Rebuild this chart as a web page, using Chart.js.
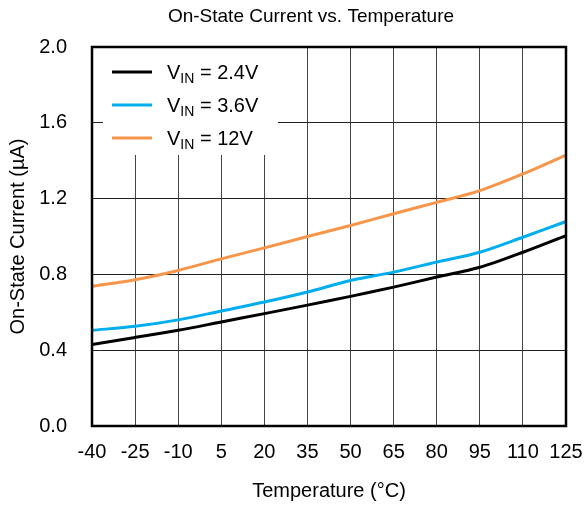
<!DOCTYPE html>
<html lang="en">
<head>
    <meta charset="UTF-8">
    <title>On-State Current vs. Temperature</title>
    <style>
        html, body { margin: 0; padding: 0; background: #fff; }
        #wrap { width: 585px; height: 507px; }
    </style>
</head>
<body>
    <div id="wrap"><canvas id="chart" width="585" height="507"></canvas></div>
    <script src="https://cdn.jsdelivr.net/npm/chart.js@4.4.0/dist/chart.umd.min.js"></script>
    <script>
        // data
        const temps = [-40, -25, -10, 5, 20, 35, 50, 65, 80, 95, 110, 125];
        const vin24 = [0.430, 0.467, 0.505, 0.549, 0.593, 0.638, 0.684, 0.733, 0.786, 0.838, 0.917, 1.005];
        const vin36 = [0.505, 0.526, 0.560, 0.607, 0.654, 0.707, 0.768, 0.812, 0.865, 0.917, 0.996, 1.079];
        const vin12 = [0.737, 0.772, 0.821, 0.882, 0.940, 1.000, 1.058, 1.120, 1.180, 1.242, 1.330, 1.430];
        const vinNames = ['2.4V', '3.6V', '12V'];
        const colors = ['#000000', '#00aeef', '#f7964a'];

        const FONT = "Arial, 'Liberation Sans', sans-serif";

        const pts = arr => temps.map((t, i) => ({x: t, y: arr[i]}));

        // title, frame and the legend (needs a subscript, so drawn by hand)
        const extras = {
            id: 'extras',
            afterDraw(chart) {
                const ctx = chart.ctx;
                const a = chart.chartArea;
                ctx.save();
                ctx.fillStyle = '#000';
                ctx.font = '19px ' + FONT;
                ctx.textAlign = 'center';
                ctx.textBaseline = 'middle';
                ctx.fillText('On-State Current vs. Temperature', 311, 17);

                // legend box
                ctx.fillStyle = '#fff';
                ctx.fillRect(a.left + 11, a.top + 1, 175, 107);
                chart.data.datasets.forEach((ds, i) => {
                    const y = a.top + 25 + i * 33;
                    ctx.strokeStyle = ds.borderColor;
                    ctx.lineWidth = 3;
                    ctx.beginPath();
                    ctx.moveTo(a.left + 20, y);
                    ctx.lineTo(a.left + 60, y);
                    ctx.stroke();
                    ctx.fillStyle = '#000';
                    ctx.textAlign = 'left';
                    ctx.textBaseline = 'alphabetic';
                    let x = a.left + 75;
                    ctx.font = '20px ' + FONT;
                    ctx.fillText('V', x, y + 7);
                    x += ctx.measureText('V').width;
                    ctx.font = '14px ' + FONT;
                    ctx.fillText('IN', x, y + 11);
                    x += ctx.measureText('IN').width;
                    ctx.font = '20px ' + FONT;
                    ctx.fillText(' = ' + vinNames[i], x, y + 7);
                });

                // frame
                ctx.strokeStyle = '#000';
                ctx.lineWidth = 2.5;
                ctx.strokeRect(a.left, a.top, a.right - a.left, a.bottom - a.top);
                ctx.restore();
            }
        };

        new Chart(document.getElementById('chart'), {
            type: 'line',
            data: {
                datasets: [
                    {label: 'VIN = 2.4V', data: pts(vin24), borderColor: colors[0]},
                    {label: 'VIN = 3.6V', data: pts(vin36), borderColor: colors[1]},
                    {label: 'VIN = 12V', data: pts(vin12), borderColor: colors[2]}
                ].map(d => Object.assign(d, {borderWidth: 3, pointRadius: 0, tension: 0.3, fill: false}))
            },
            options: {
                responsive: false,
                animation: false,
                layout: {padding: {top: 47, right: 19, left: 0, bottom: 0}},
                plugins: {legend: {display: false}, tooltip: {enabled: false}, title: {display: false}},
                scales: {
                    x: {
                        type: 'linear', min: -40, max: 125,
                        afterFit: s => { s.height = 81; s.paddingRight = 0; s.paddingLeft = 0; },
                        afterBuildTicks: s => { s.ticks = temps.map(v => ({value: v})); },
                        grid: {color: '#444', lineWidth: 1, drawTicks: false},
                        border: {display: false},
                        ticks: {color: '#000', font: {size: 20, family: FONT}, padding: 14, maxRotation: 0, autoSkip: false},
                        title: {display: true, text: 'Temperature (°C)', color: '#000',
                                font: {size: 20, family: FONT}, padding: {top: 0, bottom: 4}}
                    },
                    y: {
                        min: 0, max: 2,
                        afterFit: s => { s.width = 92; },
                        grid: {color: '#222', lineWidth: 1, drawTicks: false},
                        border: {display: false},
                        ticks: {stepSize: 0.4, color: '#000', font: {size: 20, family: FONT}, padding: 25,
                                callback: v => v.toFixed(1)},
                        title: {display: true, text: 'On-State Current (µA)', color: '#000',
                                font: {size: 20, family: FONT}, padding: {top: 6, bottom: 0}}
                    }
                }
            },
            plugins: [extras]
        });
    </script>
</body>
</html>
